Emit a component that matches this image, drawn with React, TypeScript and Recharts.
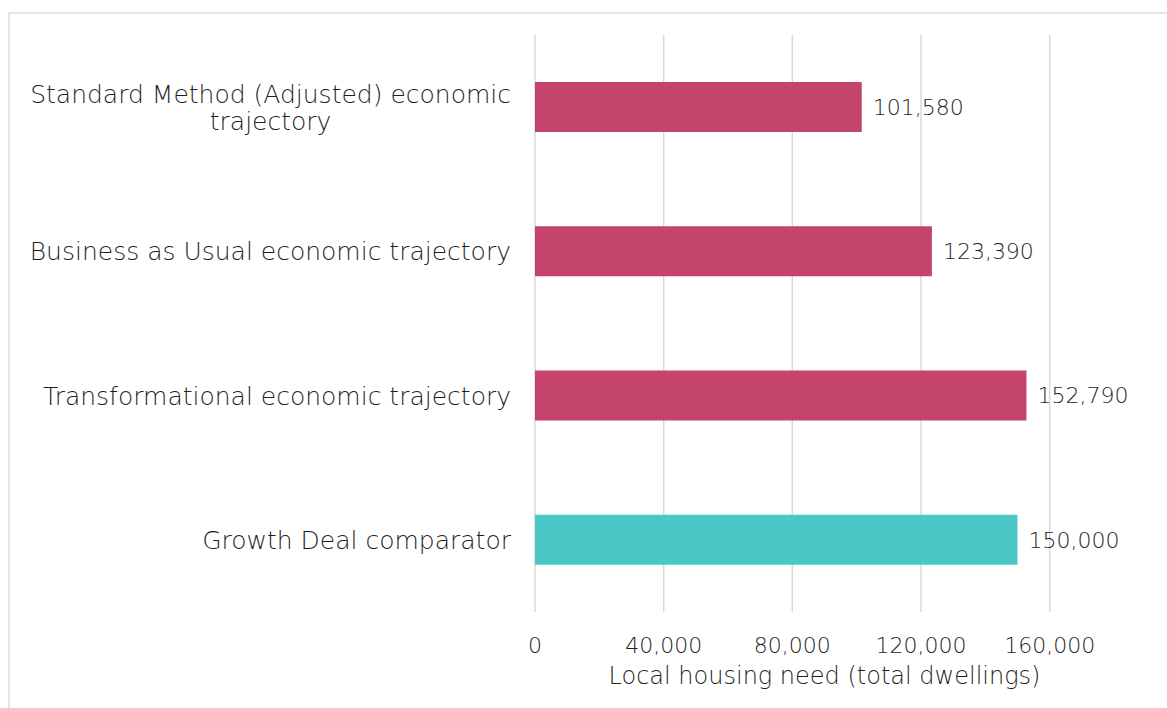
import { BarChart, Bar, XAxis, YAxis, CartesianGrid, Cell, LabelList } from "recharts";

const categories = [
  "Standard Method (Adjusted) economic trajectory",
  "Business as Usual economic trajectory",
  "Transformational economic trajectory",
  "Growth Deal comparator",
];
const values = [101580, 123390, 152790, 150000];
const barColors = ["#C5446B", "#C5446B", "#C5446B", "#49C8C5"];
const xTicks = [0, 40000, 80000, 120000, 160000];
const xTitle = "Local housing need (total dwellings)";

const FONT = "'DejaVu Sans', sans-serif";
const CAT_SIZE = 25;
const NUM_SIZE = 22;
const TEXT = "#1f1f1f";

const data = categories.map((name, i) => ({ name, value: values[i] }));

let ctx: CanvasRenderingContext2D | null = null;
function measure(s: string) {
  if (!ctx) ctx = document.createElement("canvas").getContext("2d");
  if (!ctx) return s.length * CAT_SIZE * 0.55;
  ctx.font = `200 ${CAT_SIZE}px ${FONT}`;
  return ctx.measureText(s).width;
}

function wrap(s: string, max: number) {
  const words = s.split(" ");
  const lines: string[] = [];
  let cur = "";
  for (const w of words) {
    const next = cur ? cur + " " + w : w;
    if (cur && measure(next) > max) {
      lines.push(cur);
      cur = w;
    } else cur = next;
  }
  if (cur) lines.push(cur);
  return lines;
}

function CategoryTick(props: any) {
  const { x, y, payload } = props;
  const lines = wrap(payload.value, 500);
  const block = Math.max(...lines.map(measure));
  const cx = x - block / 2;
  const lh = 27;
  const top = y - ((lines.length - 1) * lh) / 2;
  return (
    <text
      textAnchor="middle"
      fontFamily={FONT}
      fontWeight={200}
      fontSize={CAT_SIZE}
      fill={TEXT}
    >
      {lines.map((l, i) => (
        <tspan key={i} x={cx} y={top + i * lh} dy="0.36em">
          {l}
        </tspan>
      ))}
    </text>
  );
}

export default function App() {
  return (
    <div
      style={{
        position: "absolute",
        left: 0,
        top: 0,
        width: 1167,
        height: 708,
        overflow: "hidden",
        background: "#fff",
      }}
    >
      <div
        style={{
          position: "absolute",
          left: 8,
          top: 12,
          width: 1300,
          height: 900,
          borderTop: "2px solid #e4e4e4",
          borderLeft: "2px solid #e4e4e4",
        }}
      />
      <div style={{ position: "absolute", left: 0, top: 0 }}>
        <BarChart
          width={1167}
          height={708}
          data={data}
          layout="vertical"
          margin={{ top: 35, right: 53, left: 0, bottom: 16 }}
          barSize={50}
        >
          <CartesianGrid
            horizontal={false}
            verticalValues={xTicks}
            stroke="#d9d9d9"
            strokeWidth={1.5}
          />
          <XAxis
            type="number"
            domain={[0, 180000]}
            ticks={xTicks}
            axisLine={false}
            tickLine={false}
            height={80}
            tickMargin={19}
            tick={{ fontSize: NUM_SIZE, fill: TEXT, fontFamily: FONT, fontWeight: 200 }}
            tickFormatter={(v: number) => v.toLocaleString("en-US")}
            label={{
              value: xTitle,
              position: "insideBottom",
              offset: 8,
              fontSize: CAT_SIZE - 1,
              fill: TEXT,
              fontFamily: FONT,
              fontWeight: 200,
            }}
          />
          <YAxis
            type="category"
            dataKey="name"
            width={535}
            axisLine={false}
            tickLine={false}
            tickMargin={18}
            tick={<CategoryTick />}
          />
          <Bar dataKey="value" isAnimationActive={false}>
            {data.map((_, i) => (
              <Cell key={i} fill={barColors[i]} />
            ))}
            <LabelList
              dataKey="value"
              position="right"
              offset={11}
              fontSize={NUM_SIZE}
              fill={TEXT}
              fontFamily={FONT}
              fontWeight={200}
              formatter={(v: any) => Number(v).toLocaleString("en-US")}
            />
          </Bar>
        </BarChart>
      </div>
    </div>
  );
}
